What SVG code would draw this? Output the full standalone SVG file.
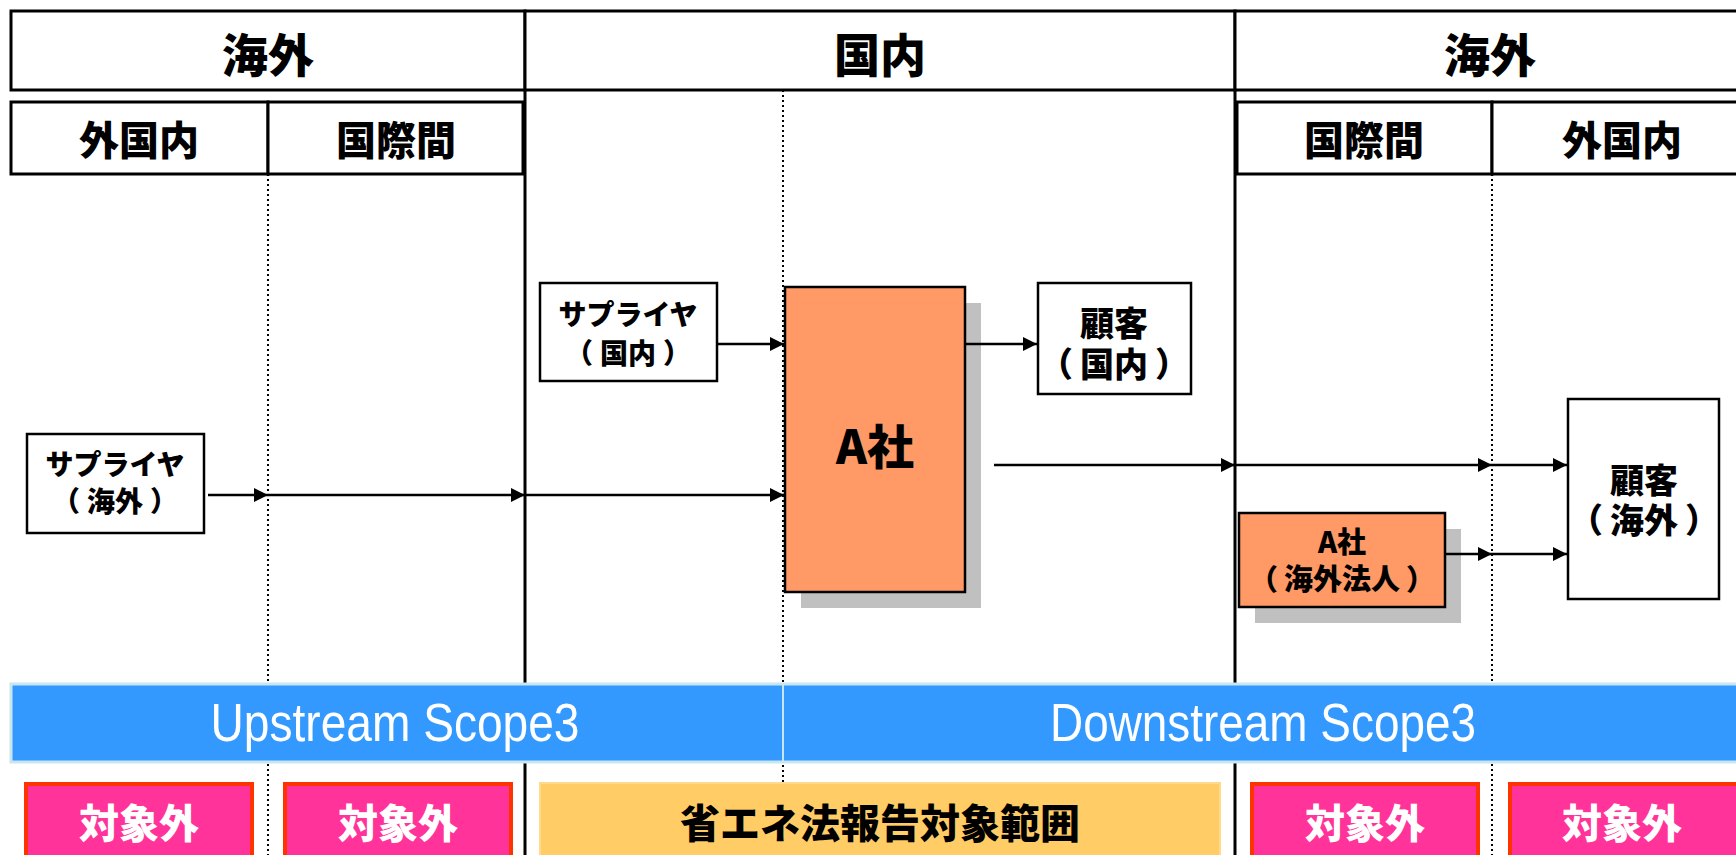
<svg xmlns="http://www.w3.org/2000/svg" width="1736" height="855" viewBox="0 0 1736 855">
<defs>
<marker id="ah" viewBox="0 0 10 10" refX="10" refY="5" markerWidth="16" markerHeight="14" markerUnits="userSpaceOnUse" orient="auto"><path d="M0,0 L10,5 L0,10 z" fill="#000"/></marker>
<style>
.hdr{fill:#fff;stroke:#000;stroke-width:3}
.t{font-family:"Noto Sans CJK JP","Noto Sans CJK SC",sans-serif;font-weight:900;fill:#000;text-anchor:middle;dominant-baseline:central}
.h1{font-size:46px}
.h2{font-size:40px}
.n28{font-size:28px}
.n33{font-size:34px}
.w{fill:#fff}
.box{fill:#fff;stroke:#000;stroke-width:2.5}
.org{fill:#FF9966;stroke:#000;stroke-width:2.5}
.shd{fill:#C0C0C0}
.solid{stroke:#000;stroke-width:3;fill:none}
.dot{stroke:#000;stroke-width:2;stroke-dasharray:2 3;fill:none}
.conn{stroke:#000;stroke-width:2.5;fill:none;marker-end:url(#ah)}
.pink{fill:#FF3399;stroke:#FF3300;stroke-width:4}
.yel{fill:#FFCC66;stroke:#FFD98C;stroke-width:2}
.band{fill:#3399FF;stroke:#C8E6EE;stroke-width:3}
.en{font-family:"Liberation Sans",Arial,sans-serif;font-size:53px;fill:#fff;text-anchor:middle}
</style>
</defs>
<rect width="1736" height="855" fill="#fff"/>

<g id="gridlines">
<line class="dot" x1="268" y1="174" x2="268" y2="855"/>
<line class="dot" x1="783" y1="90" x2="783" y2="855"/>
<line class="dot" x1="1492" y1="174" x2="1492" y2="855"/>
<line class="solid" x1="525" y1="11" x2="525" y2="855"/>
<line class="solid" x1="1235" y1="11" x2="1235" y2="855"/>
</g>

<g id="header-kaigai-left">
<rect class="hdr" x="11" y="11" width="514" height="79"/>
<text class="t h1" x="268" y="52">海外</text>
</g>
<g id="header-kokunai">
<rect class="hdr" x="525" y="11" width="710" height="79"/>
<text class="t h1" x="880" y="52">国内</text>
</g>
<g id="header-kaigai-right">
<rect class="hdr" x="1235" y="11" width="520" height="79"/>
<text class="t h1" x="1490" y="52">海外</text>
</g>
<g id="sub-gaikokunai-left">
<rect class="hdr" x="11" y="102" width="257" height="72"/>
<text class="t h2" x="139" y="138">外国内</text>
</g>
<g id="sub-kokusaikan-left">
<rect class="hdr" x="268" y="102" width="255" height="72"/>
<text class="t h2" x="396" y="138">国際間</text>
</g>
<g id="sub-kokusaikan-right">
<rect class="hdr" x="1237" y="102" width="255" height="72"/>
<text class="t h2" x="1364" y="138">国際間</text>
</g>
<g id="sub-gaikokunai-right">
<rect class="hdr" x="1492" y="102" width="260" height="72"/>
<text class="t h2" x="1622" y="138">外国内</text>
</g>

<g id="supplier-domestic">
<rect class="box" x="540" y="283" width="177" height="98"/>
<text class="t n28" x="628" y="313">サプライヤ</text>
<text class="t n28" x="628" y="352">（<tspan dx="7">国内</tspan><tspan dx="7">）</tspan></text>
</g>
<g id="company-a">
<rect class="shd" x="801" y="303" width="180" height="305"/>
<rect class="org" x="785" y="287" width="180" height="305"/>
<text class="t" style="font-size:47px" x="875" y="443">A社</text>
</g>
<g id="customer-domestic">
<rect class="box" x="1038" y="283" width="153" height="111"/>
<text class="t n33" x="1114" y="321">顧客</text>
<text class="t n33" x="1114" y="362">（<tspan dx="7">国内</tspan><tspan dx="7">）</tspan></text>
</g>
<g id="supplier-overseas">
<rect class="box" x="27" y="434" width="177" height="99"/>
<text class="t n28" x="115" y="463">サプライヤ</text>
<text class="t n28" x="115" y="500">（<tspan dx="7">海外</tspan><tspan dx="7">）</tspan></text>
</g>
<g id="company-a-overseas">
<rect class="shd" x="1255" y="529" width="206" height="94"/>
<rect class="org" x="1239" y="513" width="206" height="94"/>
<text class="t" style="font-size:29px" x="1342" y="540">A社</text>
<text class="t" style="font-size:29px" x="1342" y="577">（<tspan dx="6">海外法人</tspan><tspan dx="6">）</tspan></text>
</g>
<g id="customer-overseas">
<rect class="box" x="1568" y="399" width="151" height="200"/>
<text class="t n33" x="1644" y="478">顧客</text>
<text class="t n33" x="1644" y="518">（<tspan dx="7">海外</tspan><tspan dx="7">）</tspan></text>
</g>

<g id="connectors">
<line class="conn" x1="208" y1="495" x2="268" y2="495"/>
<line class="conn" x1="268" y1="495" x2="525" y2="495"/>
<line class="conn" x1="525" y1="495" x2="784" y2="495"/>
<line class="conn" x1="717" y1="344" x2="784" y2="344"/>
<line class="conn" x1="965" y1="344" x2="1037" y2="344"/>
<line class="conn" x1="994" y1="465" x2="1235" y2="465"/>
<line class="conn" x1="1235" y1="465" x2="1492" y2="465"/>
<line class="conn" x1="1492" y1="465" x2="1567" y2="465"/>
<line class="conn" x1="1445" y1="554" x2="1492" y2="554"/>
<line class="conn" x1="1492" y1="554" x2="1567" y2="554"/>
</g>

<g id="scope3-band">
<rect class="band" x="11" y="684" width="1745" height="78"/>
<line x1="783" y1="684" x2="783" y2="762" stroke="#C8E6EE" stroke-width="2"/>
<text class="en" x="395" y="741" textLength="369" lengthAdjust="spacingAndGlyphs">Upstream Scope3</text>
<text class="en" x="1263" y="741" textLength="426" lengthAdjust="spacingAndGlyphs">Downstream Scope3</text>
</g>

<g id="out-1">
<rect class="pink" x="26" y="784" width="226" height="90"/>
<text class="t h2 w" x="139" y="821">対象外</text>
</g>
<g id="out-2">
<rect class="pink" x="285" y="784" width="226" height="90"/>
<text class="t h2 w" x="398" y="821">対象外</text>
</g>
<g id="in-scope">
<rect class="yel" x="540" y="783" width="680" height="90"/>
<text class="t h2" x="880" y="821">省エネ法報告対象範囲</text>
</g>
<g id="out-3">
<rect class="pink" x="1252" y="784" width="226" height="90"/>
<text class="t h2 w" x="1365" y="821">対象外</text>
</g>
<g id="out-4">
<rect class="pink" x="1510" y="784" width="240" height="90"/>
<text class="t h2 w" x="1622" y="821">対象外</text>
</g>
</svg>
